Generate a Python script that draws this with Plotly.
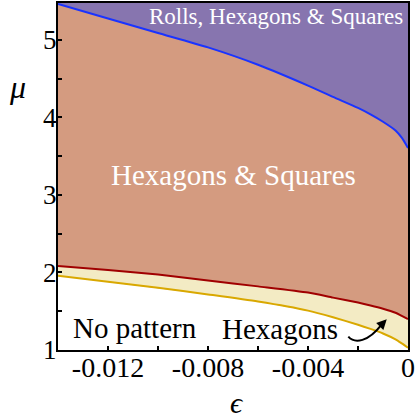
import plotly.graph_objects as go

# ---- data ----
eps = [-0.014, -0.012, -0.010, -0.008, -0.006, -0.004, -0.003, -0.002,
       -0.0015, -0.001, -0.0005, -0.00025, 0.0]
mu_rolls = [5.465, 5.277, 5.090, 4.904, 4.680, 4.411, 4.265, 4.123,
            4.040, 3.945, 3.832, 3.739, 3.606]
mu_hexsq = [2.084, 2.032, 1.974, 1.897, 1.821, 1.741, 1.676, 1.612,
            1.575, 1.533, 1.480, 1.440, 1.400]
mu_hex = [1.959, 1.881, 1.804, 1.717, 1.625, 1.508, 1.422, 1.326,
          1.272, 1.213, 1.137, 1.085, 1.030]

x_tickvals = [-0.012, -0.008, -0.004, 0.0]
x_ticktext = ["-0.012", "-0.008", "-0.004", "0"]
y_tickvals = [1, 2, 3, 4, 5]
y_ticktext = ["1", "2", "3", "4", "5"]

region_labels = ["Rolls, Hexagons & Squares", "Hexagons & Squares", "No pattern", "Hexagons"]

# ---- styling ----
PURPLE = "#8775AF"
SALMON = "#D49B80"
CREAM = "#F3EBC4"
BLUE = "#1A33FF"
DARKRED = "#A00000"
GOLD = "#D9A800"
SERIF = "Liberation Serif"

fig = go.Figure()

fig.add_trace(go.Scatter(x=eps, y=mu_hex, mode="lines", line=dict(width=0),
                         fill="tozeroy", fillcolor="white", hoverinfo="skip"))
fig.add_trace(go.Scatter(x=eps, y=mu_hexsq, mode="lines", line=dict(width=0),
                         fill="tonexty", fillcolor=CREAM, hoverinfo="skip"))
fig.add_trace(go.Scatter(x=eps, y=mu_rolls, mode="lines", line=dict(width=0),
                         fill="tonexty", fillcolor=SALMON, hoverinfo="skip"))
fig.add_trace(go.Scatter(x=eps, y=mu_hex, mode="lines", line=dict(color=GOLD, width=2, shape="spline", smoothing=0.6)))
fig.add_trace(go.Scatter(x=eps, y=mu_hexsq, mode="lines", line=dict(color=DARKRED, width=2, shape="spline", smoothing=0.6)))
fig.add_trace(go.Scatter(x=eps, y=mu_rolls, mode="lines", line=dict(color=BLUE, width=2, shape="spline", smoothing=0.6)))

ann = [
    dict(text=region_labels[0], x=0.623, y=0.962, font=dict(size=23, color="white")),
    dict(text=region_labels[1], x=0.5, y=0.505, font=dict(size=29, color="white")),
    dict(text=region_labels[2], x=0.221, y=0.063, font=dict(size=29, color="black")),
    dict(text=region_labels[3], x=0.634, y=0.060, font=dict(size=29, color="black")),
    dict(text="<i>μ</i>", x=-0.117, y=0.758, font=dict(size=32, color="black")),
    dict(text="<i>ϵ</i>", x=0.511, y=-0.152, font=dict(size=30, color="black")),
]
for a in ann:
    fig.add_annotation(xref="paper", yref="paper", showarrow=False,
                       xanchor="center", yanchor="middle",
                       font_family=SERIF, **a)

fig.add_shape(type="path", xref="x", yref="y",
              path="M -0.002388,1.172 C -0.00212,1.077 -0.0016,1.103 -0.00104,1.335",
              line=dict(color="black", width=2))
fig.add_annotation(x=-0.00085, y=1.396, ax=-0.00108, ay=1.32, xref="x", yref="y",
                   axref="x", ayref="y", text="", showarrow=True, arrowhead=2,
                   arrowsize=1, arrowwidth=2, arrowcolor="black", standoff=0)

fig.update_layout(
    width=415, height=418,
    margin=dict(l=58, r=7, t=3, b=68),
    plot_bgcolor=PURPLE, paper_bgcolor="white",
    showlegend=False,
    font=dict(family=SERIF, size=27, color="black"),
)
fig.update_xaxes(range=[-0.014, 0.0], tickvals=x_tickvals, ticktext=x_ticktext,
                 ticks="inside", ticklen=4, tickwidth=1.5, tickcolor="black",
                 minor=dict(ticks="inside", ticklen=4, tickwidth=1.5, tickcolor="black", dtick=0.002,
                            tick0=0),
                 showgrid=False, zeroline=False, showline=True, linewidth=2,
                 linecolor="black", mirror=True, automargin=False,
                 ticklabelstandoff=-9,
                 tickfont=dict(family=SERIF, size=28))
fig.update_yaxes(range=[1, 5.477], tickvals=y_tickvals, ticktext=y_ticktext,
                 ticks="inside", ticklen=4, tickwidth=1.5, tickcolor="black",
                 minor=dict(ticks="inside", ticklen=4, tickwidth=1.5, tickcolor="black", dtick=0.5,
                            tick0=1),
                 showgrid=False, zeroline=False, showline=True, linewidth=2,
                 linecolor="black", mirror=True, automargin=False,
                 ticklabelstandoff=-6,
                 tickfont=dict(family=SERIF, size=27))

fig.write_html("out.html", config={"displayModeBar": False},
               post_script="document.body.style.margin='0';document.body.style.overflow='hidden';")
